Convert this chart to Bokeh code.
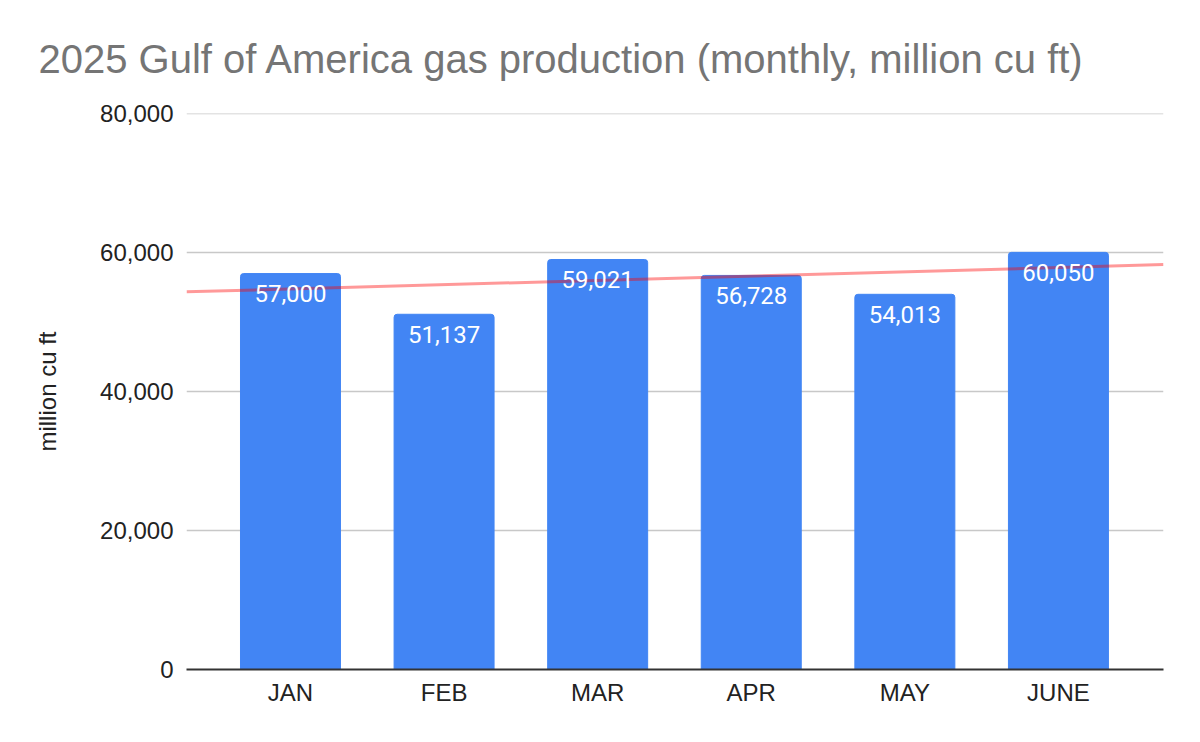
from bokeh.plotting import figure
from bokeh.models import ColumnDataSource, FixedTicker, NumeralTickFormatter, Range1d
from bokeh.core.properties import value
from bokeh.embed import file_html
from bokeh.resources import INLINE

months = ["JAN", "FEB", "MAR", "APR", "MAY", "JUNE"]
production = [57000, 51137, 59021, 56728, 54013, 60050]
y_ticks = [0, 20000, 40000, 60000, 80000]

xs = list(range(len(months)))
labels = [f"{v:,}" for v in production]
src = ColumnDataSource(dict(x=xs, top=production, label=labels))

x_lo, x_hi = -0.677, 5.684
p = figure(width=1192, height=734, output_backend="svg", toolbar_location=None,
           x_range=Range1d(x_lo, x_hi), y_range=Range1d(0, 80040),
           min_border_left=186, min_border_right=29, min_border_bottom=65, min_border_top=113)

p.title.text = "2025 Gulf of America gas production (monthly, million cu ft)"
p.title.text_font = "Liberation Sans"
p.title.text_font_size = "40px"
p.title.text_font_style = "normal"
p.title.text_color = "#757575"
p.title.offset = -148
p.title.standoff = 66

p.vbar(x="x", top="top", width=0.651, source=src, color="#4285F4",
       border_radius=(3, 3, 0, 0))

# linear trendline (least squares)
n = len(production)
mx = sum(xs) / n
my = sum(production) / n
slope = sum((x - mx) * (y - my) for x, y in zip(xs, production)) / sum((x - mx) ** 2 for x in xs)
icpt = my - slope * mx
p.line([x_lo, x_hi], [icpt + slope * x_lo, icpt + slope * x_hi],
       line_color="#FF0000", line_alpha=0.4, line_width=3)

p.text(x="x", y="top", text="label", source=src, text_align="center",
       text_baseline="middle", y_offset=20, text_color="white",
       text_font=value("Roboto"), text_font_size="24px")

p.xaxis.ticker = FixedTicker(ticks=xs)
p.xaxis.major_label_overrides = {i: m for i, m in enumerate(months)}
p.xaxis.major_label_text_font = "Liberation Sans"
p.xaxis.major_label_text_font_size = "24px"
p.xaxis.major_label_text_color = "#222222"
p.xaxis.major_tick_line_color = None
p.xaxis.minor_tick_line_color = None
p.xaxis.axis_line_color = "#333333"
p.xaxis.axis_line_width = 2
p.xaxis.major_label_standoff = 3

p.yaxis.ticker = FixedTicker(ticks=y_ticks)
p.yaxis.formatter = NumeralTickFormatter(format="0,0")
p.yaxis.major_label_text_font = "Liberation Sans"
p.yaxis.major_label_text_font_size = "24px"
p.yaxis.major_label_text_color = "#222222"
p.yaxis.major_tick_line_color = None
p.yaxis.minor_tick_line_color = None
p.yaxis.axis_line_color = None
p.yaxis.major_label_standoff = 7
p.yaxis.axis_label = "million cu ft"
p.yaxis.axis_label_text_font = "Liberation Sans"
p.yaxis.axis_label_text_font_size = "24px"
p.yaxis.axis_label_text_font_style = "normal"
p.yaxis.axis_label_text_color = "#222222"
p.yaxis.axis_label_standoff = 36

p.xgrid.grid_line_color = None
p.ygrid.grid_line_color = "#C8C8C8"
p.ygrid.grid_line_width = 1.5
p.outline_line_color = None

open("out.html", "w").write(file_html(p, INLINE))
